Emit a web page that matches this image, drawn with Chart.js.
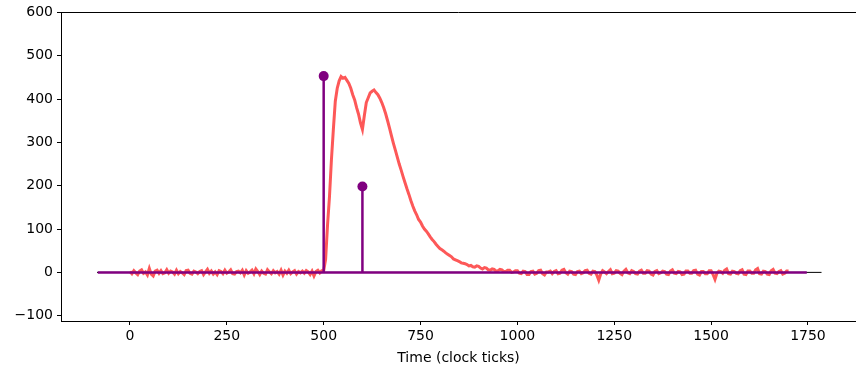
<!DOCTYPE html>
<html>
<head>
<meta charset="utf-8">
<script src="https://cdn.jsdelivr.net/npm/chart.js@4/dist/chart.umd.min.js"></script>
<style>
    html, body { margin: 0; padding: 0; background: #fff; }
    #wrap { width: 856px; height: 367px; position: relative; }
</style>
</head>
<body>
<div id="wrap"><canvas id="chart"></canvas></div>
<script>
// signal sampled every 5 clock ticks, 0 .. 1700
const sampleStep = 5;
const signalValues = [
    // 0 - 495
    2, -3, 4, -1, -5, 3, 6, -2, 1, -6,
    9, -4, -8, 3, 5, -2, 4, -3, -1, 6,
    -2, 3, 1, -4, 5, -3, 2, -1, -5, 4,
    5, -2, -4, 3, 1, -3, 2, 4, -5, 1,
    7, -2, 3, -4, 1, -5, 4, 2, -3, 5,
    -2, 1, 6, -3, -4, 2, 3, -1, 5, -6,
    4, -2, 1, 5, -3, 8, 2, -5, 3, -2,
    -4, 6, 1, -3, 4, -1, 2, -4, 5, -6,
    3, -2, 5, -3, 1, 4, -4, 2, -1, 3,
    -2, 4, 1, -5, 3, -8, 2, 5, -1, 4,
    // 500 - 995
    4, 30, 110, 175, 260, 330, 395, 425, 442, 452,
    448, 450, 443, 436, 425, 410, 398, 380, 365, 345,
    330, 362, 392, 403, 414, 418, 421, 415, 410, 402,
    392, 380, 366, 350, 333, 315, 298, 282, 266, 250,
    236, 221, 207, 193, 180, 166, 153, 142, 133, 122,
    116, 107, 100, 95, 89, 82, 76, 71, 65, 60,
    55, 52, 49, 45, 42, 39, 36, 31, 29, 27,
    25, 22, 21, 20, 18, 15, 16, 13, 12, 15,
    14, 10, 8, 11, 10, 6, 5, 8, 7, 3,
    4, 7, 6, 2, 2, 5, 5, 0, 1, 4,
    // 1000 - 1700
    4, -2, -3, 3, 2, -5, -5, 2, 3, -4,
    -2, 4, 5, -3, -6, 1, 1, 3, -3, 2,
    4, -3, -2, 5, 7, -1, -4, 3, 2, -4,
    -5, 2, 3, -3, -1, 4, 5, -2, -4, 3,
    2, -6, -18, -4, 4, 1, -3, 2, 6, -3,
    -2, 4, 3, -2, -5, 3, 7, -1, -3, 4,
    2, -3, -4, 3, 5, -2, -2, 4, 3, -4,
    -6, 2, 4, -3, -1, 3, 2, -4, -5, 3,
    6, -2, -3, 2, 1, -5, -4, 3, 3, -2,
    -2, 4, 5, -4, -6, 2, 2, -3, -3, 4,
    4, -5, -16, -2, 3, 2, -2, 5, 8, -3,
    -4, 3, 2, -2, -3, 4, 6, -4, -5, 3,
    3, -2, -2, 6, 9, -3, -4, 3, 2, -4,
    -5, 4, 7, -2, -3, 2, 4, -4, -2, 3,
    3
];

const stemTimes = [500, 600];
const stemHeights = [453, 198];
const baselineRange = [-83, 1747];
const zeroLineRange = [-85, 1785];

const xTickValues = [0, 250, 500, 750, 1000, 1250, 1500, 1750];
const yTickValues = [-100, 0, 100, 200, 300, 400, 500, 600];

const purple = '#800080';
const tickFont = { family: 'DejaVu Sans', size: 14 };

const signalPoints = signalValues.map((v, i) => ({ x: i * sampleStep, y: v }));

const stemSets = stemTimes.map((t, i) => ({
    data: [{ x: t, y: 0 }, { x: t, y: stemHeights[i] }],
    borderColor: purple,
    backgroundColor: purple,
    borderWidth: 2.5,
    pointRadius: [0, 5],
    pointBorderWidth: 0,
    order: 1
}));

const topSpine = {
    id: 'topSpine',
    afterDraw(chart) {
        const { ctx, chartArea } = chart;
        ctx.save();
        ctx.strokeStyle = '#000';
        ctx.lineWidth = 1;
        ctx.beginPath();
        ctx.moveTo(chartArea.left, Math.round(chartArea.top) + 0.5);
        ctx.lineTo(chartArea.right, Math.round(chartArea.top) + 0.5);
        ctx.stroke();
        ctx.restore();
    }
};

const ctx = document.getElementById('chart').getContext('2d');
const chart = new Chart(ctx, {
    type: 'line',
    data: {
        datasets: [
            {
                data: zeroLineRange.map(x => ({ x: x, y: 0 })),
                borderColor: '#000',
                borderWidth: 1,
                pointRadius: 0,
                order: 4
            },
            {
                data: signalPoints,
                borderColor: '#fd5858',
                borderWidth: 3,
                pointRadius: 0,
                tension: 0,
                order: 3
            },
            {
                data: baselineRange.map(x => ({ x: x, y: 0 })),
                borderColor: purple,
                borderWidth: 2.5,
                pointRadius: 0,
                order: 2
            },
            ...stemSets
        ]
    },
    options: {
        responsive: true,
        maintainAspectRatio: false,
        animation: false,
        layout: { autoPadding: false, padding: { top: 9, right: 0, left: 0, bottom: 0 } },
        plugins: {
            legend: { display: false },
            tooltip: { enabled: false }
        },
        scales: {
            x: {
                type: 'linear',
                min: -178,
                max: 1874,
                afterBuildTicks: (scale) => {
                    scale.ticks = xTickValues.map(v => ({ value: v }));
                },
                afterFit: (scale) => { scale.height = 46; },
                ticks: {
                    color: '#000',
                    font: tickFont,
                    maxRotation: 0,
                    padding: 3,
                    callback: (v) => String(v)
                },
                grid: {
                    drawOnChartArea: false,
                    drawTicks: true,
                    tickLength: 4,
                    color: '#000'
                },
                border: { display: true, color: '#000', width: 1 },
                title: {
                    display: true,
                    text: 'Time (clock ticks)',
                    color: '#000',
                    font: tickFont,
                    padding: { top: 2, bottom: 0 }
                }
            },
            y: {
                min: -112.2,
                max: 600,
                afterBuildTicks: (scale) => {
                    scale.ticks = yTickValues.map(v => ({ value: v }));
                },
                afterFit: (scale) => { scale.width = 61; },
                ticks: {
                    color: '#000',
                    font: tickFont,
                    padding: 4,
                    callback: (v) => String(v).replace('-', '\u2212')
                },
                grid: {
                    drawOnChartArea: false,
                    drawTicks: true,
                    tickLength: 4,
                    color: '#000'
                },
                border: { display: true, color: '#000', width: 1 }
            }
        }
    },
    plugins: [topSpine]
});
</script>
</body>
</html>
